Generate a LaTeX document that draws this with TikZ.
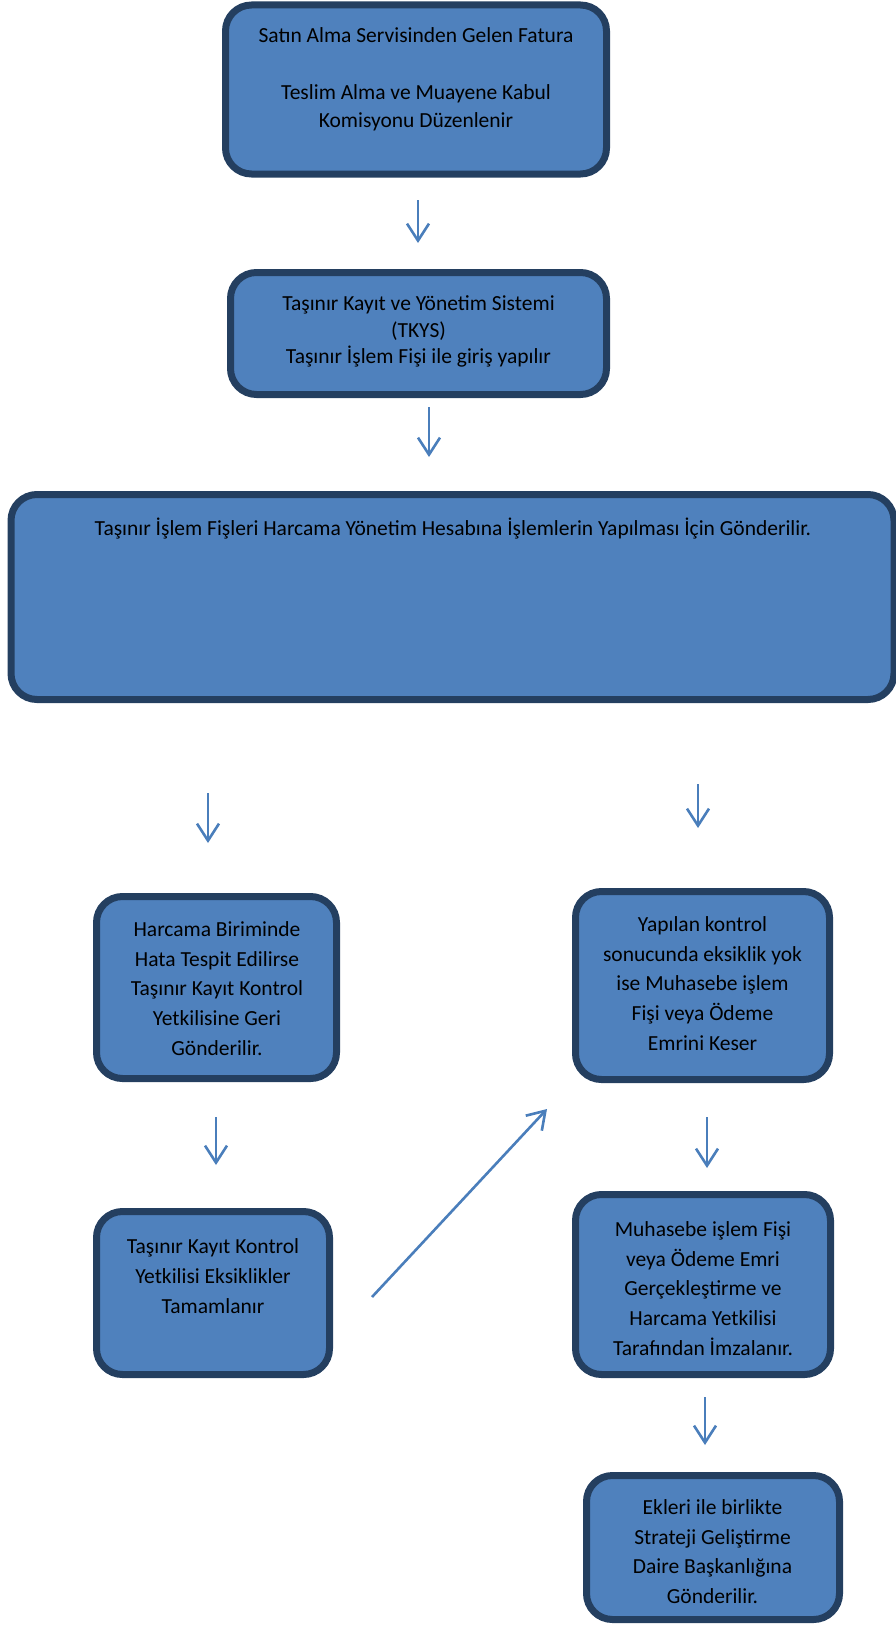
\documentclass[tikz,border=0pt]{standalone}
\usepackage{fontspec}
\setmainfont{Carlito}
\usetikzlibrary{arrows.meta}
\definecolor{boxfill}{HTML}{4F81BD}
\definecolor{boxline}{HTML}{243F60}
\definecolor{arrowcol}{HTML}{4A7EBB}
\tikzset{
  stepbox/.style={draw=boxline, fill=boxfill, line width=7pt, rounded corners=26pt,
    inner sep=0pt, outer sep=0pt},
  boxtext/.style={align=center, inner sep=0pt, text=black,
    font=\fontsize{21.5}{#1}\selectfont},
  boxtext/.default=29.5,
  flow/.style={draw=arrowcol, line width=2.6pt,
    -{Straight Barb[length=17pt,width=22pt]}}
}
\begin{document}
\begin{tikzpicture}[x=1pt, y=-1pt]
\useasboundingbox (0,0) rectangle (896,1627);

% boxes
\node[stepbox, minimum width=381pt, minimum height=169pt] (b1) at (416,89.5) {};
\node[boxtext=28.5] (t1) at (416,79.5) {Satın Alma Servisinden Gelen Fatura\\[28.5pt]Teslim Alma ve Muayene Kabul\\Komisyonu Düzenlenir};

\node[stepbox, minimum width=376pt, minimum height=122pt] (b2) at (418.5,333.5) {};
\node[boxtext=26.5] (t2) at (418.5,331.5) {Taşınır Kayıt ve Yönetim Sistemi\\(TKYS)\\Taşınır İşlem Fişi ile giriş yapılır};

\node[stepbox, minimum width=883pt, minimum height=205pt] (b3) at (452.5,597) {};
\node[boxtext] (t3) at (453,529) {Taşınır İşlem Fişleri Harcama Yönetim Hesabına İşlemlerin Yapılması İçin Gönderilir.};

\node[stepbox, minimum width=240pt, minimum height=182pt] (b4) at (216.5,987.5) {};
\node[boxtext=29.75] (t4) at (217,988.5) {Harcama Biriminde\\Hata Tespit Edilirse\\Taşınır Kayıt Kontrol\\Yetkilisine Geri\\Gönderilir.};

\node[stepbox, minimum width=254pt, minimum height=188pt] (b5) at (702.5,985.5) {};
\node[boxtext=29.75] (t5) at (702.5,983.5) {Yapılan kontrol\\sonucunda eksiklik yok\\ise Muhasebe işlem\\Fişi veya Ödeme\\Emrini Keser};

\node[stepbox, minimum width=233pt, minimum height=163pt] (b6) at (213,1293) {};
\node[boxtext=30] (t6) at (213,1276) {Taşınır Kayıt Kontrol\\Yetkilisi Eksiklikler\\Tamamlanır};

\node[stepbox, minimum width=255pt, minimum height=180pt] (b7) at (703,1284.5) {};
\node[boxtext=29.75] (t7) at (703,1288.5) {Muhasebe işlem Fişi\\veya Ödeme Emri\\Gerçekleştirme ve\\Harcama Yetkilisi\\Tarafından İmzalanır.};

\node[stepbox, minimum width=253pt, minimum height=144pt] (b8) at (713,1547.5) {};
\node[boxtext=29.75] (t8) at (712.5,1551.5) {Ekleri ile birlikte\\Strateji Geliştirme\\Daire Başkanlığına\\Gönderilir.};

% arrow ends
\coordinate (a1s) at (418,200);  \coordinate (a1e) at (418,243);
\coordinate (a2s) at (429,407);  \coordinate (a2e) at (429,457);
\coordinate (a3s) at (208,793);  \coordinate (a3e) at (208,843);
\coordinate (a4s) at (698,784);  \coordinate (a4e) at (698,828);
\coordinate (a5s) at (216,1117); \coordinate (a5e) at (216,1165);
\coordinate (a6s) at (707,1117); \coordinate (a6e) at (707,1168);
\coordinate (a7s) at (372,1297); \coordinate (a7e) at (547,1109);
\coordinate (a8s) at (705,1397); \coordinate (a8e) at (705,1445);

\foreach \i in {1,...,8} { \draw[flow] (a\i s) -- (a\i e); }
\end{tikzpicture}
\end{document}
